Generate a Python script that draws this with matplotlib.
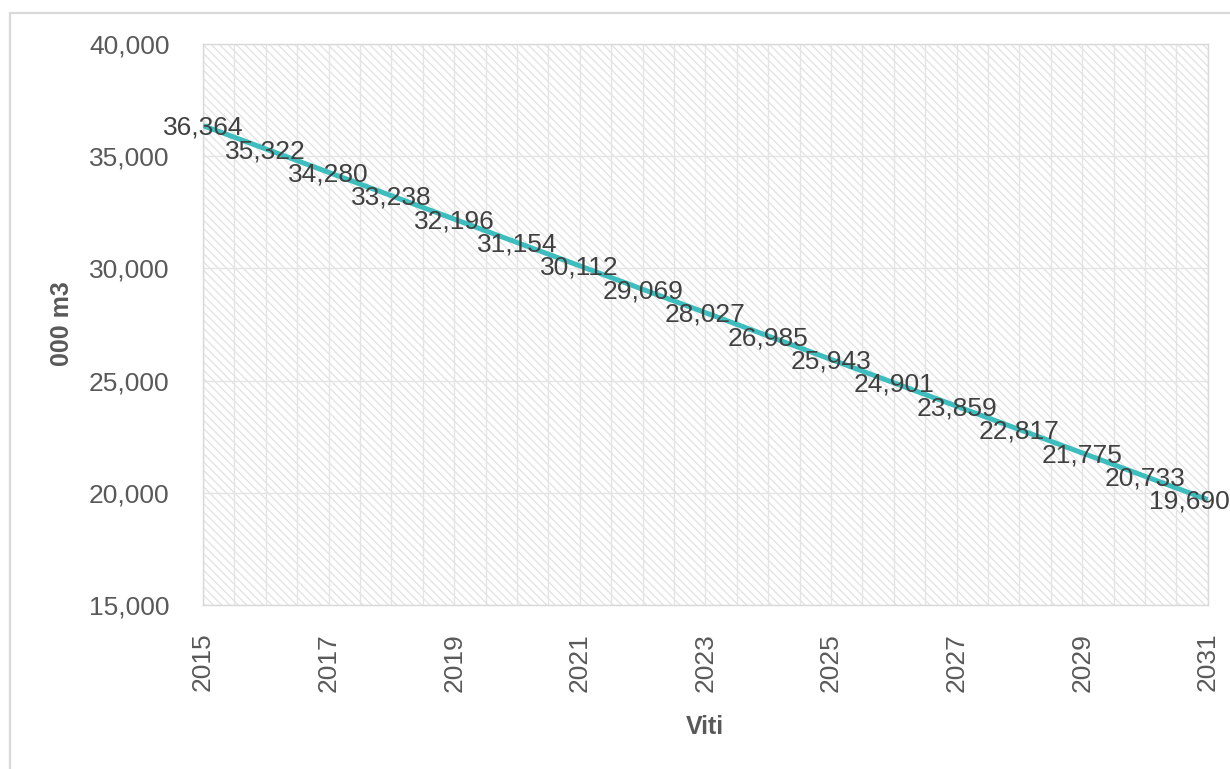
import matplotlib

matplotlib.use("Agg")
import matplotlib.pyplot as plt
from matplotlib.patches import Rectangle
from matplotlib.ticker import FuncFormatter, MultipleLocator

plt.rcParams["font.family"] = ["Liberation Sans", "DejaVu Sans"]
plt.rcParams["hatch.linewidth"] = 0.9

# Data
years = list(range(2015, 2032))
volumes = [
    36364, 35322, 34280, 33238, 32196, 31154, 30112, 29069, 28027,
    26985, 25943, 24901, 23859, 22817, 21775, 20733, 19690,
]
x_ticks = list(range(2015, 2032, 2))
y_ticks = [15000, 20000, 25000, 30000, 35000, 40000]

LINE_COLOR = "#3dbdbd"
GRID_COLOR = "#e4e4e4"
TICK_COLOR = "#595959"
LABEL_COLOR = "#404040"

fig = plt.figure(figsize=(12.3, 7.69), dpi=100)
ax = fig.add_axes([0.165, 0.2133, 0.817, 0.7295])

# hatched plot area background
ax.add_patch(
    Rectangle((0, 0), 1, 1, transform=ax.transAxes, facecolor="white",
              edgecolor="#e2e2e2", hatch="\\\\\\\\", linewidth=0, zorder=0)
)

ax.plot(years, volumes, color=LINE_COLOR, linewidth=3.6, zorder=3,
        solid_capstyle="butt")

for i, (yr, v) in enumerate(zip(years, volumes)):
    dx = -13 if i == len(years) - 1 else 0
    ax.annotate(f"{v:,}", (yr, v), xytext=(dx, -1.5), textcoords="offset points",
                ha="center", va="center", fontsize=19, color=LABEL_COLOR,
                zorder=4, annotation_clip=False)

ax.set_xlim(2015, 2031)
ax.set_ylim(15000, 40000)
ax.set_xticks(x_ticks)
ax.xaxis.set_minor_locator(MultipleLocator(0.5))
ax.set_yticks(y_ticks)
ax.yaxis.set_major_formatter(FuncFormatter(lambda v, _: f"{int(v):,}"))

ax.grid(which="both", axis="x", color=GRID_COLOR, linewidth=1, zorder=1)
ax.grid(which="major", axis="y", color=GRID_COLOR, linewidth=1, zorder=1)
ax.set_axisbelow(True)

ax.tick_params(axis="both", which="both", length=0, labelsize=19, labelcolor=TICK_COLOR)
ax.tick_params(axis="x", pad=20, labelrotation=90)
ax.tick_params(axis="y", pad=24)

for side in ["top", "right", "left", "bottom"]:
    ax.spines[side].set_color("#d9d9d9")
    ax.spines[side].set_linewidth(1)

fig.text(0.5732, 1 - 727 / 769, "Viti", ha="center", va="center",
         fontsize=18, fontweight="bold", color=TICK_COLOR)
fig.text(62 / 1230, 1 - 324 / 769, "000 m3", ha="center", va="center",
         rotation=90, fontsize=18, fontweight="bold", color=TICK_COLOR)

# outer chart border
fig.add_artist(
    Rectangle((10 / 1230, -0.1), 1.2, 1.1 - 13 / 769, transform=fig.transFigure,
              facecolor="none", edgecolor="#d9d9d9", linewidth=1.6, clip_on=False)
)

fig.savefig("out.png", dpi=100)
